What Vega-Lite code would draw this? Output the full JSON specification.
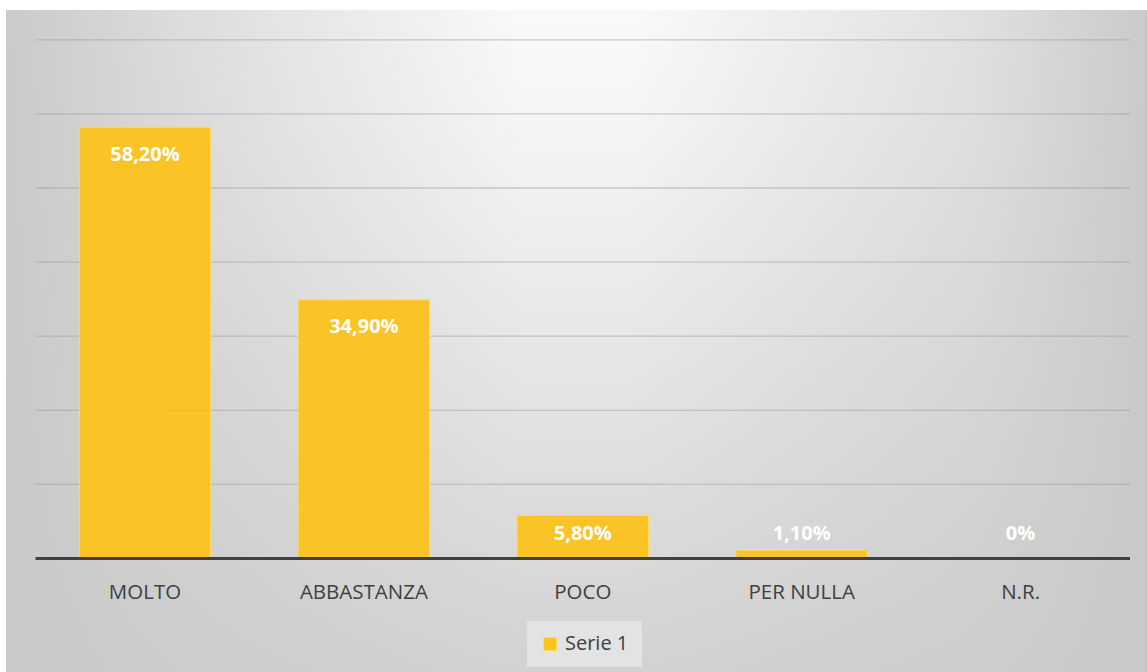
{
  "$schema": "https://vega.github.io/schema/vega-lite/v6.json",
  "width": 1140,
  "height": 662,
  "autosize": {"type": "none"},
  "padding": {"left": 6, "top": 10, "right": 1, "bottom": 0},
  "background": "#ffffff",
  "config": {
    "view": {"stroke": "#c0c0c0", "strokeWidth": 1},
    "font": "Open Sans"
  },
  "datasets": {
    "risposte": [
      {"risposta": "MOLTO", "valore": 58.2, "etichetta": "58,20%", "serie": "Serie 1"},
      {"risposta": "ABBASTANZA", "valore": 34.9, "etichetta": "34,90%", "serie": "Serie 1"},
      {"risposta": "POCO", "valore": 5.8, "etichetta": "5,80%", "serie": "Serie 1"},
      {"risposta": "PER NULLA", "valore": 1.1, "etichetta": "1,10%", "serie": "Serie 1"},
      {"risposta": "N.R.", "valore": 0, "etichetta": "0%", "serie": "Serie 1"}
    ],
    "griglia": [{"g": 10}, {"g": 20}, {"g": 30}, {"g": 40}, {"g": 50}, {"g": 60}, {"g": 70}],
    "uno": [{"k": 1}]
  },
  "layer": [
    {
      "layer": [
        {
          "data": {"name": "uno"},
          "mark": {
            "type": "rect",
            "color": {
              "gradient": "linear", "x1": 0, "y1": 0, "x2": 1, "y2": 0,
              "stops": [
                {"offset": 0, "color": "#cacaca"},
                {"offset": 0.15, "color": "#dcdcdc"},
                {"offset": 0.45, "color": "#f9f9f9"},
                {"offset": 0.55, "color": "#f9f9f9"},
                {"offset": 0.85, "color": "#e0e0e0"},
                {"offset": 1, "color": "#cacaca"}
              ]
            }
          },
          "encoding": {
            "x": {"datum": -0.02695, "type": "quantitative", "scale": {"domain": [-0.02695, 1.01462], "nice": false, "zero": false}, "axis": null},
            "x2": {"datum": 1.01462},
            "y": {"datum": -15.32, "type": "quantitative", "scale": {"domain": [-15.32, 74.02], "nice": false, "zero": false}, "axis": null},
            "y2": {"datum": 74.02}
          }
        },
        {
          "data": {"name": "uno"},
          "mark": {
            "type": "rect",
            "color": {
              "gradient": "linear", "x1": 0, "y1": 0, "x2": 0, "y2": 1,
              "stops": [
                {"offset": 0, "color": "rgba(200,200,200,0)"},
                {"offset": 0.15, "color": "rgba(200,200,200,0.08)"},
                {"offset": 1, "color": "rgba(200,200,200,0.8)"}
              ]
            }
          },
          "encoding": {
            "x": {"datum": -0.02695, "type": "quantitative", "axis": null},
            "x2": {"datum": 1.01462},
            "y": {"datum": -15.32, "type": "quantitative", "axis": null},
            "y2": {"datum": 74.02}
          }
        },
        {
          "data": {"name": "griglia"},
          "mark": {"type": "rule", "color": "#9a9a9a", "strokeOpacity": 0.45, "strokeWidth": 1.3},
          "encoding": {
            "x": {"datum": 0, "type": "quantitative", "axis": null},
            "x2": {"datum": 1},
            "y": {"field": "g", "type": "quantitative", "axis": null}
          }
        }
      ]
    },
    {
      "data": {"name": "risposte"},
      "layer": [
        {
          "mark": {"type": "bar", "fillOpacity": 0.96, "stroke": "#fcd96a", "strokeWidth": 1},
          "encoding": {
            "x": {
              "field": "risposta", "type": "nominal", "sort": null,
              "scale": {
                "domain": ["MOLTO", "ABBASTANZA", "POCO", "PER NULLA", "N.R."],
                "paddingInner": 0.4, "paddingOuter": 0.304, "align": 0.551
              },
              "axis": {
                "title": null, "domain": false, "ticks": false, "tickSize": 0,
                "labelAngle": 0, "labelFontSize": 20.5, "labelColor": "#404040",
                "labelFont": "Open Sans", "labelPadding": 24, "offset": -113.5,
                "grid": false, "zindex": 1, "orient": "bottom"
              }
            },
            "y": {
              "field": "valore", "type": "quantitative",
              "scale": {"domain": [-15.32, 74.02], "nice": false, "zero": false},
              "axis": null
            },
            "color": {
              "field": "serie", "type": "nominal",
              "scale": {"range": ["#fbc31e"]},
              "legend": {
                "orient": "none", "legendX": 521, "legendY": 611, "title": null,
                "labelFontSize": 20, "labelColor": "#404040", "labelFont": "Open Sans",
                "symbolType": "square", "symbolSize": 169, "symbolOpacity": 1,
                "symbolStrokeColor": "#fcd96a", "symbolStrokeWidth": 1,
                "fillColor": "#e3e3e3", "padding": 13, "labelOffset": 5
              }
            }
          }
        },
        {
          "transform": [{"calculate": "max(datum.valore - 3.7, 3.3)", "as": "pos"}],
          "mark": {"type": "text", "color": "#ffffff", "fontSize": 20, "fontWeight": "bold", "font": "Open Sans", "baseline": "middle", "align": "center"},
          "encoding": {
            "x": {"field": "risposta", "type": "nominal", "sort": null},
            "y": {"field": "pos", "type": "quantitative", "axis": null},
            "text": {"field": "etichetta"}
          }
        }
      ]
    },
    {
      "data": {"name": "uno"},
      "mark": {"type": "rule", "color": "#404040", "strokeWidth": 3},
      "encoding": {
        "x": {"datum": 0, "type": "quantitative", "scale": {"domain": [-0.02695, 1.01462], "nice": false, "zero": false}, "axis": null},
        "x2": {"datum": 1},
        "y": {"datum": 0, "type": "quantitative", "axis": null}
      }
    }
  ],
  "resolve": {"scale": {"x": "independent"}, "axis": {"x": "independent"}}
}
